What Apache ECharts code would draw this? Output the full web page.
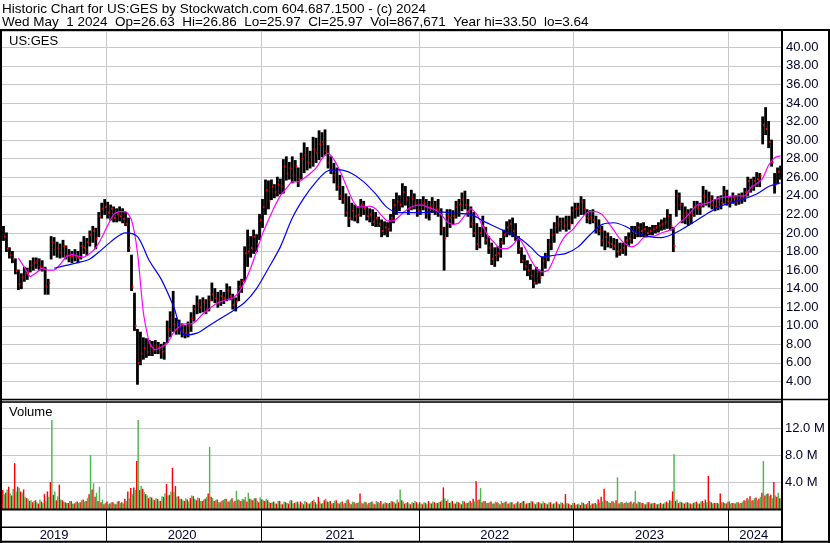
<!DOCTYPE html>
<html><head><meta charset="utf-8">
<script src="https://cdn.jsdelivr.net/npm/echarts@6/dist/echarts.min.js"></script>
<style>html,body{margin:0;padding:0;background:#fff}#c{width:830px;height:543px}</style>
</head><body><div id="c"></div>
<script>
// ---------- DATA (weekly bars) ----------
const firstWeek = '2019-05-03';
const weekHigh = [
20.7,20.0,18.4,18.0,17.2,16.0,15.6,16.3,16.2,17.0,
17.3,17.3,17.2,17.0,16.3,15.0,19.6,19.5,19.0,18.8,
19.2,18.6,18.2,18.0,18.2,18.0,19.0,19.6,19.4,20.2,
20.7,20.5,22.2,23.2,23.6,23.3,23.0,22.8,22.6,22.8,
22.6,22.2,21.6,17.6,13.5,9.6,9.3,8.7,8.6,8.4,
8.3,8.4,8.2,8.0,8.2,10.5,11.5,13.7,10.8,10.6,
10.2,10.0,10.4,11.4,12.2,13.2,12.8,13.0,12.8,13.2,
14.6,14.0,13.6,13.8,13.6,14.5,14.2,13.4,13.0,14.8,
15.0,18.5,20.3,19.6,20.3,19.8,22.0,23.6,25.7,25.6,
25.7,25.2,26.0,25.8,27.9,28.2,27.6,28.2,27.8,27.0,
28.6,29.7,29.2,28.8,30.3,30.2,31.0,30.8,31.1,29.4,
28.2,27.5,27.0,26.2,25.0,24.2,23.9,23.2,23.0,22.8,
23.6,23.4,22.8,22.6,22.5,22.2,21.7,21.4,21.2,21.1,
22.0,23.6,24.3,24.0,25.3,25.0,23.9,24.6,24.2,23.6,
23.6,23.9,23.6,23.4,23.8,23.4,23.6,22.6,20.6,22.5,
22.5,22.4,23.4,23.6,24.3,24.5,23.6,22.8,22.2,21.0,
20.6,21.8,20.6,19.6,18.9,18.4,18.5,19.4,20.3,21.2,
21.4,21.6,21.0,19.6,18.4,17.6,17.0,16.6,16.0,16.3,
16.0,17.4,17.8,19.3,20.4,21.1,21.8,21.6,21.6,21.8,
21.8,22.8,23.2,23.2,23.9,23.6,22.5,22.4,22.5,21.8,
21.4,20.7,20.2,20.0,19.6,19.4,19.3,18.9,18.9,19.6,
20.0,20.7,20.7,21.1,21.0,21.1,20.7,20.6,20.8,20.8,
21.1,21.4,21.6,22.5,22.0,20.6,24.6,24.3,23.2,22.8,
22.5,22.6,23.4,23.4,23.2,25.0,24.6,24.4,24.0,23.6,
23.9,24.0,25.0,24.6,23.9,24.3,24.0,24.2,24.3,24.8,
26.0,25.8,26.0,26.5,26.4,32.5,33.5,32.0,30.0,26.4,27.0,27.2];
const weekLow = [
19.2,18.0,17.3,16.8,15.6,13.9,14.0,14.8,15.0,15.8,
16.0,16.2,16.0,15.9,13.4,13.4,17.2,17.6,17.4,17.3,
17.4,17.2,16.9,16.8,17.0,16.8,17.2,17.8,17.6,18.6,
19.0,18.3,19.6,21.6,22.0,21.6,21.4,21.2,21.2,21.3,
21.1,20.8,18.0,13.8,9.5,3.7,5.8,6.4,6.6,6.8,
6.8,7.0,7.0,6.5,6.4,8.2,8.8,9.4,9.1,9.1,
8.8,8.7,8.8,9.4,10.5,11.3,11.4,11.5,11.3,11.6,
12.7,12.5,12.0,12.2,12.4,12.7,12.8,11.8,11.6,12.7,
13.6,14.8,16.4,17.4,17.8,18.0,19.3,20.6,22.0,22.6,
23.6,23.8,24.0,24.2,24.3,25.7,25.8,25.4,25.6,25.0,
25.8,26.5,26.8,27.0,27.2,27.6,27.9,28.2,28.4,27.0,
26.4,25.4,24.6,23.6,23.2,21.8,20.7,21.4,21.3,21.1,
21.8,22.0,21.4,21.2,20.8,20.7,20.7,19.6,19.8,19.6,
20.2,21.1,22.0,22.4,22.8,23.0,22.0,22.5,22.6,21.8,
22.0,22.5,21.6,21.4,22.2,22.0,21.8,19.8,16.0,19.6,
20.6,21.0,21.6,21.8,22.4,22.6,21.8,20.6,19.6,18.2,
18.4,19.6,18.8,17.8,16.6,16.4,17.0,17.4,18.8,19.6,
19.8,19.6,19.2,17.8,16.8,16.0,15.4,15.0,14.1,14.5,
14.6,15.4,16.2,17.0,18.2,19.0,20.0,20.2,20.4,20.2,
20.4,21.0,21.6,21.8,22.0,22.0,21.1,21.0,21.1,20.0,
19.8,18.6,18.2,18.5,18.4,18.2,17.4,17.6,17.8,17.6,
18.6,18.9,19.4,19.6,19.6,19.6,19.6,19.8,19.8,20.0,
20.1,20.3,20.4,20.5,20.3,18.0,21.8,22.5,21.1,21.0,
20.8,21.0,21.8,22.0,22.0,22.8,23.0,22.8,22.6,22.4,
22.5,22.6,23.2,23.0,22.8,23.2,23.0,23.1,23.2,23.4,
24.0,24.4,24.6,25.0,25.0,29.6,30.6,29.2,27.2,24.3,25.3,25.8];
const weekClose = [
19.6,18.3,17.6,17.2,15.9,14.5,15.2,15.6,15.8,16.5,
16.8,17.0,16.4,16.2,14.3,14.6,19.0,18.2,18.4,17.9,
18.6,17.6,17.4,17.5,17.4,17.3,18.6,18.4,19.0,19.8,
20.2,19.4,21.8,22.6,22.8,22.2,22.6,21.6,22.0,21.8,
21.5,21.0,18.4,14.2,10.0,6.0,7.0,7.6,7.2,7.8,
7.4,7.8,7.6,7.2,8.0,9.6,10.8,10.2,9.6,9.8,
9.5,9.2,10.0,10.8,11.8,12.4,12.0,12.6,11.8,12.8,
13.4,13.0,12.6,13.2,13.0,13.8,13.2,12.2,12.6,14.2,
14.8,17.8,18.0,18.4,19.6,18.8,21.4,22.8,24.6,23.4,
25.0,24.4,25.2,25.0,27.2,26.4,27.0,26.2,27.2,25.8,
28.0,28.4,27.6,28.2,29.0,28.6,29.6,29.8,28.8,27.6,
26.8,26.2,25.0,24.0,23.6,22.2,21.6,22.4,21.8,22.0,
23.0,22.6,21.8,22.0,21.2,21.6,21.0,20.2,20.6,20.4,
21.6,23.0,23.4,23.0,24.4,23.6,22.6,23.8,23.2,22.4,
23.0,23.2,22.2,22.8,23.0,22.6,22.4,20.4,19.4,21.8,
21.6,21.8,22.8,23.0,23.6,23.0,22.2,21.0,20.0,18.8,
20.0,20.6,19.2,18.4,17.2,17.6,17.8,19.0,19.8,20.6,
21.0,20.2,19.6,18.2,17.0,16.4,16.0,15.4,14.6,15.8,
15.2,17.0,17.4,18.8,19.8,20.6,21.0,21.2,20.8,21.4,
21.0,22.4,22.6,22.8,23.4,22.6,21.6,21.8,21.4,20.4,
20.2,19.2,19.6,19.0,18.8,18.6,18.0,18.2,18.4,19.2,
19.4,20.2,20.0,20.6,20.2,20.4,20.0,20.2,20.4,20.6,
20.8,21.0,21.2,21.8,20.8,18.6,24.0,23.0,21.8,22.2,
21.6,22.0,22.8,22.6,22.8,24.0,23.4,23.8,23.0,22.8,
23.4,23.2,24.4,23.4,23.4,23.8,23.4,23.6,24.0,24.4,
25.6,25.0,25.6,25.8,26.2,31.6,31.2,29.8,27.6,25.2,26.6,25.97];

// moving averages as drawn (magenta = fast, blue = slow), read every few weeks
const maFastFirstWeek = 5, maFastEvery = 2;
const maFast = [
17.3,16.3,15.3,15.7,16.2,16.0,16.0,16.6,17.4,17.7,
17.5,17.4,17.8,18.4,19.5,20.8,22.0,22.3,22.3,21.4,
17.9,11.4,8.2,7.4,7.7,8.1,9.2,9.9,10.2,10.2,
10.6,11.3,11.8,12.3,12.6,12.8,13.0,13.6,14.7,16.2,
18.0,19.9,21.4,22.8,24.0,24.8,25.5,25.5,25.9,26.4,
27.0,28.0,28.6,27.9,26.7,25.2,23.7,22.8,22.8,22.9,
22.6,21.9,21.3,21.3,21.8,22.4,22.8,23.0,23.0,22.7,
22.5,22.0,21.2,20.9,21.1,21.9,22.6,22.0,20.7,19.6,
18.9,18.3,18.3,18.7,19.4,18.5,17.2,16.2,15.8,16.0,
17.3,18.8,19.8,20.3,21.1,21.9,22.3,22.3,22.0,21.2,
20.3,19.4,18.8,18.5,18.8,19.5,19.6,19.7,20.0,20.2,
20.5,21.1,21.6,22.3,23.0,23.1,23.3,23.6,23.8,23.9,
24.0,24.0,24.0,24.9,25.3,25.9,27.3,28.1,28.3];
const maSlowFirstWeek = 17, maSlowEvery = 4;
const maSlow = [
16.2,16.5,16.8,17.2,18.2,19.3,20.0,19.6,17.0,15.0,
12.2,9.0,9.2,10.0,10.8,11.6,12.5,14.0,16.2,18.5,
21.6,23.8,25.5,26.7,26.8,26.4,25.5,24.2,22.7,22.2,
22.2,22.2,22.3,22.2,22.1,22.0,21.3,20.7,20.1,19.5,
18.5,17.4,17.6,17.8,18.5,19.8,20.9,21.1,20.7,20.0,
19.6,19.5,19.9,20.6,21.4,22.2,22.9,23.3,23.7,24.2,
25.0,25.4];

// volume (millions): up-day and down-day volume for each week
const volUp = [
2.2,2.9,2.3,3.0,2.6,3.1,2.4,1.8,1.5,1.3,
1.2,1.0,1.4,0.9,1.2,1.8,13.2,2.6,1.9,1.4,
1.1,0.9,1.2,0.8,1.0,0.9,1.3,1.1,1.6,8.0,
3.8,2.4,3.3,1.4,0.9,0.7,1.0,0.8,1.1,0.9,
0.8,1.2,1.6,2.2,2.8,13.2,3.4,2.5,2.0,1.8,
1.4,1.6,1.2,1.9,2.3,2.0,2.6,2.5,1.8,1.5,
1.3,1.6,1.1,2.0,1.5,1.7,1.2,1.4,1.8,9.2,
1.6,1.3,1.0,1.2,1.5,1.1,1.4,1.0,2.7,1.3,
1.5,1.8,2.4,1.4,1.6,1.2,1.7,1.3,1.5,1.0,
1.0,0.8,1.2,0.7,1.1,0.9,1.3,0.8,1.0,0.7,
0.9,1.2,0.8,1.0,1.4,0.7,1.1,0.9,1.5,1.0,
0.8,1.2,0.9,1.0,0.7,1.3,0.9,1.1,0.8,1.0,
0.9,1.1,0.7,1.0,0.8,1.2,0.9,0.7,1.0,0.8,
1.2,1.0,1.4,2.9,1.1,0.9,0.8,1.0,1.2,0.7,
0.8,1.0,0.7,0.9,1.1,0.8,1.0,1.3,1.6,1.4,
1.0,0.8,1.1,0.9,1.2,0.8,1.0,0.9,1.1,1.3,
3.1,1.2,0.9,1.0,0.8,1.1,0.9,1.2,1.0,0.8,
1.0,0.7,0.9,0.8,1.1,0.7,0.9,1.2,0.8,1.0,
0.9,1.1,0.8,1.0,0.7,0.9,0.8,1.0,0.7,0.9,
0.7,0.9,0.6,0.8,1.0,0.7,0.9,0.6,0.8,0.7,
0.9,1.1,1.3,1.0,1.2,0.9,4.7,1.0,0.8,1.1,
1.0,0.8,2.7,1.1,0.9,0.7,1.0,0.8,0.9,0.7,
0.8,0.7,1.0,0.9,1.2,8.1,1.4,1.1,0.9,1.0,
0.9,0.7,1.0,0.8,1.1,0.9,1.0,1.2,0.8,0.9,
0.8,1.0,0.9,1.1,0.8,0.9,1.0,0.8,1.1,1.2,
1.4,1.2,1.6,1.3,1.8,7.1,2.2,1.9,1.6,2.0,2.4,1.5];
const volDown = [
2.8,2.4,3.3,2.0,6.8,3.3,2.6,2.9,1.6,1.2,
1.0,1.3,0.8,1.1,2.2,2.6,4.0,2.1,1.3,3.6,
1.3,1.0,0.9,1.2,0.8,1.1,1.0,1.4,1.2,2.2,
2.9,1.8,1.2,1.0,0.7,1.1,0.8,1.0,0.7,1.2,
1.0,1.5,2.6,3.1,3.2,7.1,2.8,3.0,2.2,1.6,
1.7,1.3,1.5,1.2,1.8,3.7,2.1,6.1,3.4,1.9,
1.5,1.2,1.4,1.6,1.9,1.3,1.6,1.2,1.5,2.3,
1.8,1.2,1.4,1.0,1.3,1.5,1.1,1.6,1.2,1.4,
1.2,1.4,1.1,1.5,1.3,1.6,1.0,1.4,1.2,1.3,
0.9,1.1,0.8,1.2,0.7,1.0,0.8,1.3,0.9,1.1,
1.1,0.7,1.0,0.8,1.2,1.0,1.8,0.8,1.3,1.1,
1.2,0.9,1.3,0.8,1.1,0.9,1.4,0.7,1.0,0.9,
2.3,0.8,1.0,0.9,1.1,0.7,1.0,1.2,0.8,0.9,
0.9,1.1,0.8,1.0,1.3,0.8,1.0,0.7,0.9,1.0,
1.0,0.7,0.9,1.2,0.8,1.0,0.9,1.1,3.2,1.2,
0.9,1.2,0.8,1.0,0.7,1.1,0.9,1.2,1.5,4.1,
1.4,1.0,1.2,0.9,1.1,0.8,1.0,0.7,0.9,1.1,
0.8,1.0,0.7,1.1,0.9,1.2,0.8,0.9,1.1,0.7,
1.0,0.8,0.9,0.7,1.0,0.8,1.1,0.7,0.9,2.2,
0.8,0.6,0.9,0.7,0.6,0.9,0.7,1.2,0.8,0.9,
1.4,1.8,3.0,1.2,0.9,1.1,1.3,0.8,1.0,0.9,
0.9,1.1,1.0,0.8,1.0,0.9,0.7,1.0,0.8,0.9,
0.7,0.9,0.8,1.1,1.3,2.6,1.2,0.9,1.0,0.8,
1.0,0.8,0.9,1.1,0.8,1.2,1.4,4.9,1.0,0.9,
0.9,2.3,1.0,0.8,1.1,0.9,0.8,1.0,0.9,1.3,
1.6,1.9,1.3,1.7,1.5,2.4,2.0,2.3,2.1,4.0,1.8,1.6];

const priceTicks = [4,6,8,10,12,14,16,18,20,22,24,26,28,30,32,34,36,38,40];
const volTicks = [4,8,12];
const headerLine1 = 'Historic Chart for US:GES by Stockwatch.com 604.687.1500 - (c) 2024';
const headerLine2 = 'Wed May  1 2024  Op=26.63  Hi=26.86  Lo=25.97  Cl=25.97  Vol=867,671  Year hi=33.50  lo=3.64';
const symbolLabel = 'US:GES';
const volumeLabel = 'Volume';

// ---------- derived categories ----------
const weeks = [];
const t0 = Date.parse(firstWeek + 'T00:00:00Z');
for (let i = 0; i < weekHigh.length; i++) weeks.push(new Date(t0 + i * 7 * 864e5).toISOString().slice(0, 10));
const yearStart = new Set(), yearMid = new Set();
let spanFirst = 0;
for (let i = 1; i <= weeks.length; i++) {
  if (i === weeks.length || weeks[i].slice(0, 4) !== weeks[i - 1].slice(0, 4)) {
    yearMid.add(Math.floor((spanFirst + i - 1) / 2));
    if (i < weeks.length) yearStart.add(i);
    spanFirst = i;
  }
}
const isYearStart = (idx) => yearStart.has(idx);
const isYearMid = (idx) => yearMid.has(idx);

const FONT = '"Liberation Sans", Arial, sans-serif';
const GRAY = '#c8c8c8';
const LBL = '#00002a';

const bars = weeks.map((w, i) => [i, weekHigh[i], weekLow[i], weekClose[i]]);
const closes = weeks.map((w, i) => [i, weekClose[i]]);
const fastLine = maFast.map((v, k) => [maFastFirstWeek + k * maFastEvery, v]);
const slowLine = maSlow.map((v, k) => [maSlowFirstWeek + k * maSlowEvery, v]);

const baseX = (gi) => ({
  type: 'category', gridIndex: gi, data: weeks, boundaryGap: true,
  axisLine: {show: false}, axisTick: {show: false}, axisLabel: {show: false},
  splitLine: {show: true, interval: isYearStart, lineStyle: {color: gi < 2 ? GRAY : '#000', width: 1}}
});
const xAxes = [baseX(0), baseX(1), baseX(2), baseX(3)];
xAxes[2].axisLabel = {show: true, interval: isYearMid, formatter: (v) => v.slice(0, 4), margin: 2,
  color: LBL, fontSize: 13, fontFamily: FONT};

const chart = echarts.init(document.getElementById('c'));
const line = (x1, y1, x2, y2, w) => ({type: 'line', z: 100, silent: true,
  shape: {x1, y1, x2, y2}, style: {stroke: '#000', lineWidth: w}});

chart.setOption({
  animation: false,
  backgroundColor: '#fff',
  grid: [
    {left: 2, right: 48, top: 31, height: 369},
    {left: 2, right: 48, top: 402, height: 107},
    {left: 2, right: 48, top: 509, height: 18},
    {left: 2, right: 48, top: 527, height: 14}
  ],
  xAxis: xAxes,
  yAxis: [
    {type: 'value', gridIndex: 0, position: 'right', min: 2, max: 41.76, interval: 2,
     axisLine: {show: false}, axisTick: {show: false},
     splitLine: {lineStyle: {color: GRAY, width: 1}},
     axisLabel: {margin: 4, color: LBL, fontSize: 13, fontFamily: FONT,
       formatter: (v) => priceTicks.some(t => Math.abs(t - v) < 1e-6) ? v.toFixed(2) : ''}},
    {type: 'value', gridIndex: 1, position: 'right', min: 0, max: 15.85, interval: 4,
     axisLine: {show: false}, axisTick: {show: false},
     splitLine: {lineStyle: {color: GRAY, width: 1}},
     axisLabel: {margin: 3, color: LBL, fontSize: 13, fontFamily: FONT,
       formatter: (v) => volTicks.some(t => Math.abs(t - v) < 1e-6) ? v.toFixed(1) + ' M' : ''}},
    {type: 'value', gridIndex: 2, show: false},
    {type: 'value', gridIndex: 3, show: false}
  ],
  series: [
    {type: 'custom', xAxisIndex: 0, yAxisIndex: 0, data: bars, z: 2,
     encode: {x: 0, y: [1, 2, 3]},
     renderItem: (params, api) => {
       const hi = api.coord([api.value(0), api.value(1)]);
       const lo = api.coord([api.value(0), api.value(2)]);
       return {type: 'line', shape: {x1: hi[0], y1: hi[1] - 0.5, x2: lo[0], y2: lo[1] + 0.5},
          style: {stroke: '#000', lineWidth: 2.8}};
     }},
    {type: 'custom', xAxisIndex: 0, yAxisIndex: 0, data: closes, z: 3,
     encode: {x: 0, y: 1},
     renderItem: (params, api) => {
       const cl = api.coord([api.value(0), api.value(1)]);
       return {type: 'rect', shape: {x: cl[0] + 0.4, y: cl[1] - 1, width: 1.6, height: 2},
          style: {fill: '#ff0000'}};
     }},
    {type: 'line', xAxisIndex: 0, yAxisIndex: 0, data: fastLine, showSymbol: false, z: 5,
     smooth: 0.2, lineStyle: {color: '#ff00ff', width: 1.2}},
    {type: 'line', xAxisIndex: 0, yAxisIndex: 0, data: slowLine, showSymbol: false, z: 5,
     smooth: 0.3, lineStyle: {color: '#0000ff', width: 1.2}},
    {type: 'bar', xAxisIndex: 1, yAxisIndex: 1, data: volDown, barWidth: 1.45, barGap: '0%',
     itemStyle: {color: '#ff0000'}},
    {type: 'bar', xAxisIndex: 1, yAxisIndex: 1, data: volUp, barWidth: 1.45, barGap: '0%',
     itemStyle: {color: '#4cb84c'}}
  ],
  graphic: [
    {type: 'text', left: 2, top: 2, z: 100, style: {text: headerLine1, font: '13.5px ' + FONT, fill: '#000'}},
    {type: 'text', left: 2, top: 15, z: 100, style: {text: headerLine2, font: '13.5px ' + FONT, fill: '#000'}},
    {type: 'text', left: 9, top: 35, z: 100, style: {text: symbolLabel, font: '13px ' + FONT, fill: '#000'}},
    {type: 'text', left: 9, top: 406, z: 100, style: {text: volumeLabel, font: '13px ' + FONT, fill: '#000'}},
    line(0, 30, 830, 30, 2),
    line(1, 29, 1, 543, 2),
    line(829, 29, 829, 543, 2),
    line(782, 29, 782, 543, 2),
    line(0, 399.5, 830, 399.5, 1.5),
    line(0, 402, 782, 402, 1.5),
    line(0, 509.5, 782, 509.5, 2),
    line(0, 527.3, 782, 527.3, 1.5),
    line(0, 541.7, 830, 541.7, 2)
  ]
});
</script></body></html>
